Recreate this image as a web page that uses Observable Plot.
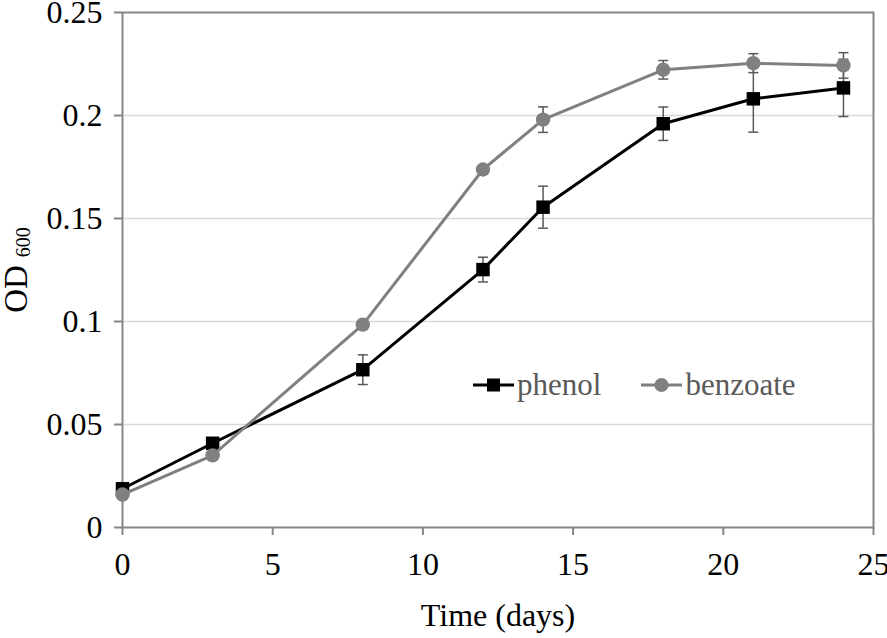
<!DOCTYPE html>
<html>
<head>
<meta charset="utf-8">
<script src="https://cdn.jsdelivr.net/npm/d3@7"></script>
<script src="https://cdn.jsdelivr.net/npm/@observablehq/plot@0.6"></script>
<style>
  html, body { margin: 0; padding: 0; background: #fff; }
  #wrap { position: relative; width: 887px; height: 638px; }
  #legend { position: absolute; left: 473px; top: 367px; display: flex; align-items: center;
            font-family: "Liberation Serif", serif; font-size: 31px; color: #595959; }
  #legend .item { display: flex; align-items: center; }
  #legend svg { display: block; }
</style>
</head>
<body>
<div id="wrap"></div>
<script>
// ---- data ----
const days = [0, 3, 8, 12, 14, 18, 21, 24];
const phenolOD  = [0.0188, 0.0409, 0.0766, 0.1252, 0.1555, 0.1960, 0.2081, 0.2134];
const phenolErr = [0, 0, 0.0072, 0.0060, 0.0102, 0.0081, 0.0162, 0.0139];
const benzoateOD  = [0.0160, 0.0350, 0.0985, 0.1738, 0.1980, 0.2222, 0.2254, 0.2243];
const benzoateErr = [0, 0, 0, 0, 0.0062, 0.0045, 0.0046, 0.0062];
const xTicks = [0, 5, 10, 15, 20, 25];
const yTicks = [0, 0.05, 0.1, 0.15, 0.2, 0.25];
const gridTicks = [0.05, 0.1, 0.15, 0.2];
const seriesNames = ["phenol", "benzoate"];

const phenol = days.map((d, i) => ({day: d, v: phenolOD[i], e: phenolErr[i]}));
const benzoate = days.map((d, i) => ({day: d, v: benzoateOD[i], e: benzoateErr[i]}));

const cap = { draw(ctx) { ctx.moveTo(-5, 0); ctx.lineTo(5, 0); } };
const errColor = "#595959";
const axisColor = "#868686";

function errMarks(data) {
  const withErr = data.filter(d => d.e > 0);
  return [
    Plot.ruleX(withErr, {x: "day", y1: d => d.v - d.e, y2: d => d.v + d.e, stroke: errColor, strokeWidth: 1.5}),
    Plot.dot(withErr, {x: "day", y: d => d.v + d.e, symbol: cap, r: 5, stroke: errColor, strokeWidth: 1.5, fill: "none"}),
    Plot.dot(withErr, {x: "day", y: d => d.v - d.e, symbol: cap, r: 5, stroke: errColor, strokeWidth: 1.5, fill: "none"})
  ];
}

const chart = Plot.plot({
  width: 887,
  height: 638,
  marginLeft: 122,
  marginRight: 14,
  marginTop: 12,
  marginBottom: 111,
  style: {fontFamily: "'Liberation Serif', serif", fontSize: "32px", color: "black", background: "white", overflow: "visible"},
  x: {domain: [0, 25]},
  y: {domain: [0, 0.25]},
  marks: [
    Plot.gridY(gridTicks, {stroke: "#d9d9d9", strokeOpacity: 1, strokeWidth: 1.5}),
    Plot.frame({stroke: axisColor, strokeWidth: 2}),
    Plot.axisX(xTicks, {tickSize: 8, tickPadding: 17, stroke: axisColor, strokeWidth: 2, fill: "black",
      label: "Time (days)", labelAnchor: "center", labelArrow: "none", labelOffset: 98, tickFormat: d => String(d)}),
    Plot.axisY(yTicks, {tickSize: 8, tickPadding: 12, stroke: axisColor, strokeWidth: 2, fill: "black",
      label: null, tickFormat: d => String(+d.toFixed(2))}),
    Plot.line(phenol, {x: "day", y: "v", stroke: "black", strokeWidth: 3}),
    ...errMarks(phenol),
    Plot.dot(phenol, {x: "day", y: "v", symbol: "square", r: 7.6, fill: "black", stroke: "none"}),
    Plot.line(benzoate, {x: "day", y: "v", stroke: "#808080", strokeWidth: 3}),
    ...errMarks(benzoate),
    Plot.dot(benzoate, {x: "day", y: "v", symbol: "circle", r: 7.2, fill: "#808080", stroke: "none"})
  ]
});

// y-axis title with subscript
const svg = d3.select(chart);
const yl = svg.append("text")
  .attr("transform", "translate(27,270) rotate(-90)")
  .attr("text-anchor", "middle")
  .attr("font-family", "'Liberation Serif', serif")
  .attr("font-size", 33)
  .attr("fill", "black");
yl.append("tspan").text("OD");
yl.append("tspan").attr("font-size", 20).attr("dx", 8).attr("dy", 3).text("600");

document.getElementById("wrap").appendChild(chart);

// legend
const legend = document.createElement("div");
legend.id = "legend";
const mk = (name, color, sym, gap) => {
  const it = document.createElement("div");
  it.className = "item";
  it.style.marginRight = gap + "px";
  const s = d3.create("svg").attr("width", 42).attr("height", 20);
  s.append("line").attr("x1", 0).attr("x2", 41).attr("y1", 10).attr("y2", 10).attr("stroke", color).attr("stroke-width", 3);
  if (sym === "square") s.append("rect").attr("x", 14).attr("y", 3.5).attr("width", 13).attr("height", 13).attr("fill", color);
  else s.append("circle").attr("cx", 20.5).attr("cy", 10).attr("r", 7).attr("fill", color);
  it.appendChild(s.node());
  const t = document.createElement("span");
  t.style.marginLeft = "2px";
  t.textContent = name;
  it.appendChild(t);
  return it;
};
legend.appendChild(mk(seriesNames[0], "black", "square", 40));
legend.appendChild(mk(seriesNames[1], "#808080", "circle", 0));
document.getElementById("wrap").appendChild(legend);
</script>
</body>
</html>
